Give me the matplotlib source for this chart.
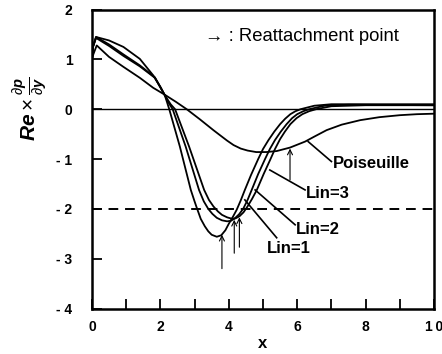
import matplotlib
matplotlib.use("Agg")
import matplotlib.pyplot as plt

plt.rcParams['font.family'] = ['Liberation Sans', 'DejaVu Sans']
plt.rcParams['mathtext.fontset'] = 'custom'
plt.rcParams['mathtext.rm'] = 'Liberation Sans'
plt.rcParams['mathtext.it'] = 'Liberation Sans:italic:bold'
plt.rcParams['mathtext.bf'] = 'Liberation Sans:bold'

# ---- data ----
pois_x = [0.0, 0.04, 0.14, 0.5, 0.92, 1.4, 1.79, 2.13, 2.45, 2.77, 3.15, 3.55, 3.74, 3.95,
          4.14, 4.35, 4.55, 4.8, 5.1, 5.4, 5.79, 6.23, 6.5, 6.86, 7.3, 7.84, 8.4, 9.0, 9.5, 10.0]
pois_y = [1.0, 1.1, 1.28, 1.05, 0.85, 0.63, 0.43, 0.29, 0.15, 0.0, -0.2, -0.42, -0.52, -0.63,
          -0.72, -0.79, -0.83, -0.86, -0.86, -0.84, -0.77, -0.65, -0.55, -0.42, -0.31, -0.22, -0.16, -0.12, -0.1, -0.09]

lin1_x = [0.0, 0.03, 0.12, 0.5, 0.92, 1.4, 1.79, 2.0, 2.13, 2.2, 2.26, 2.57, 2.89, 3.0, 3.06,
          3.18, 3.3, 3.4, 3.5, 3.65, 3.78, 3.9, 4.0, 4.12, 4.23, 4.35, 4.47, 4.65, 4.86, 5.0,
          5.16, 5.33, 5.5, 5.65, 5.8, 5.95, 6.1, 6.5, 7.0, 8.0, 10.0]
lin1_y = [1.0, 1.25, 1.45, 1.38, 1.25, 1.01, 0.68, 0.45, 0.28, 0.13, 0.0, -0.75, -1.62, -1.85, -1.97,
          -2.2, -2.35, -2.45, -2.52, -2.56, -2.53, -2.43, -2.3, -2.16, -2.02, -1.83, -1.62, -1.32, -1.0, -0.8,
          -0.62, -0.45, -0.3, -0.19, -0.1, -0.04, 0.0, 0.07, 0.1, 0.1, 0.1]

lin2_x = [0.0, 0.03, 0.12, 0.5, 0.92, 1.4, 1.84, 2.13, 2.25, 2.36, 2.74, 3.13, 3.27, 3.4, 3.52,
          3.65, 3.8, 3.95, 4.06, 4.16, 4.3, 4.42, 4.55, 4.67, 4.86, 5.06, 5.2, 5.35, 5.52, 5.69,
          5.85, 6.0, 6.18, 6.35, 6.8, 7.5, 10.0]
lin2_y = [1.0, 1.25, 1.45, 1.3, 1.1, 0.88, 0.64, 0.28, 0.12, 0.0, -0.75, -1.62, -1.85, -2.0, -2.1,
          -2.18, -2.23, -2.25, -2.24, -2.2, -2.11, -2.0, -1.82, -1.62, -1.3, -1.0, -0.8, -0.62, -0.45, -0.3,
          -0.18, -0.1, -0.04, 0.0, 0.07, 0.09, 0.08]

lin3_x = [0.0, 0.03, 0.12, 0.5, 0.92, 1.4, 1.84, 2.13, 2.3, 2.43, 2.84, 3.28, 3.42, 3.55, 3.68,
          3.8, 3.95, 4.1, 4.2, 4.31, 4.43, 4.55, 4.68, 4.82, 5.02, 5.22, 5.35, 5.5, 5.64, 5.8,
          5.98, 6.15, 6.35, 6.55, 7.0, 8.0, 10.0]
lin3_y = [1.0, 1.25, 1.43, 1.27, 1.07, 0.86, 0.63, 0.28, 0.1, 0.0, -0.75, -1.62, -1.82, -1.95, -2.05,
          -2.12, -2.17, -2.2, -2.19, -2.15, -2.07, -1.95, -1.8, -1.62, -1.3, -1.0, -0.8, -0.6, -0.45, -0.3,
          -0.18, -0.1, -0.04, 0.0, 0.06, 0.08, 0.08]

dashed_level = -2.0

arrow_x = [3.8, 4.16, 4.31, 5.79]
arrow_y0 = [-3.2, -2.89, -2.77, -1.42]
arrow_y1 = [-2.52, -2.22, -2.17, -0.79]

labels = ['Poiseuille', 'Lin=3', 'Lin=2', 'Lin=1']
label_xy = [(7.05, -1.08), (6.26, -1.69), (5.96, -2.41), (5.12, -2.79)]
leader_from = [(7.0, -1.05), (6.23, -1.62), (5.94, -2.32), (5.4, -2.58)]
leader_to = [(6.32, -0.65), (5.2, -1.22), (4.77, -1.62), (4.47, -1.82)]

xticks_major = [0, 2, 4, 6, 8, 10]
xtick_labels = ['0', '2', '4', '6', '8', '1\u20090']
yticks = [-4, -3, -2, -1, 0, 1, 2]
ytick_labels = ['- 4', '- 3', '- 2', '- 1', '0', '1', '2']

# ---- figure ----
fig = plt.figure(figsize=(4.42, 3.54), dpi=100)
ax = fig.add_axes([0.208, 0.1285, 0.774, 0.8445])

ax.axhline(0, color='black', lw=1.0)
ax.axhline(dashed_level, color='black', lw=1.4, ls=(0, (5, 3.5)))

for xs, ys in [(pois_x, pois_y), (lin1_x, lin1_y), (lin2_x, lin2_y), (lin3_x, lin3_y)]:
    ax.plot(xs, ys, color='black', lw=1.3, solid_joinstyle='round')

for xa, y0, y1 in zip(arrow_x, arrow_y0, arrow_y1):
    ax.annotate('', xy=(xa, y1), xytext=(xa, y0),
                arrowprops=dict(arrowstyle='->', lw=0.8, color='black',
                                mutation_scale=9, shrinkA=0, shrinkB=0))

for lab, (tx, ty), (fx, fy), (ex, ey) in zip(labels, label_xy, leader_from, leader_to):
    ax.plot([fx, ex], [fy, ey], color='black', lw=1.2)
    ax.text(tx, ty, lab, fontsize=12, fontweight='bold', ha='left', va='center')

ax.text(3.3, 1.45, '→ : Reattachment point', fontsize=13.3, ha='left', va='center')

ax.set_xlim(0, 10)
ax.set_ylim(-4, 2)
ax.set_xticks(xticks_major)
ax.set_xticklabels(xtick_labels, fontsize=10, fontweight='bold')
ax.set_xticks([1, 3, 5, 7, 9], minor=True)
ax.set_yticks(yticks)
ax.set_yticklabels(ytick_labels, fontsize=10, fontweight='bold')
ax.tick_params(axis='both', which='both', direction='in', length=7, width=1.3,
               top=False, right=False)
ax.tick_params(axis='x', pad=8)
ax.tick_params(axis='y', pad=14)
for s in ax.spines.values():
    s.set_linewidth(1.8)

ax.set_xlabel('x', fontsize=12, fontweight='bold', labelpad=2)
ax.set_ylabel(r'$Re\times\frac{\partial p}{\partial y}$', fontsize=15)
ax.yaxis.set_label_coords(-0.125, 0.667)

fig.savefig('out.png', dpi=100)
